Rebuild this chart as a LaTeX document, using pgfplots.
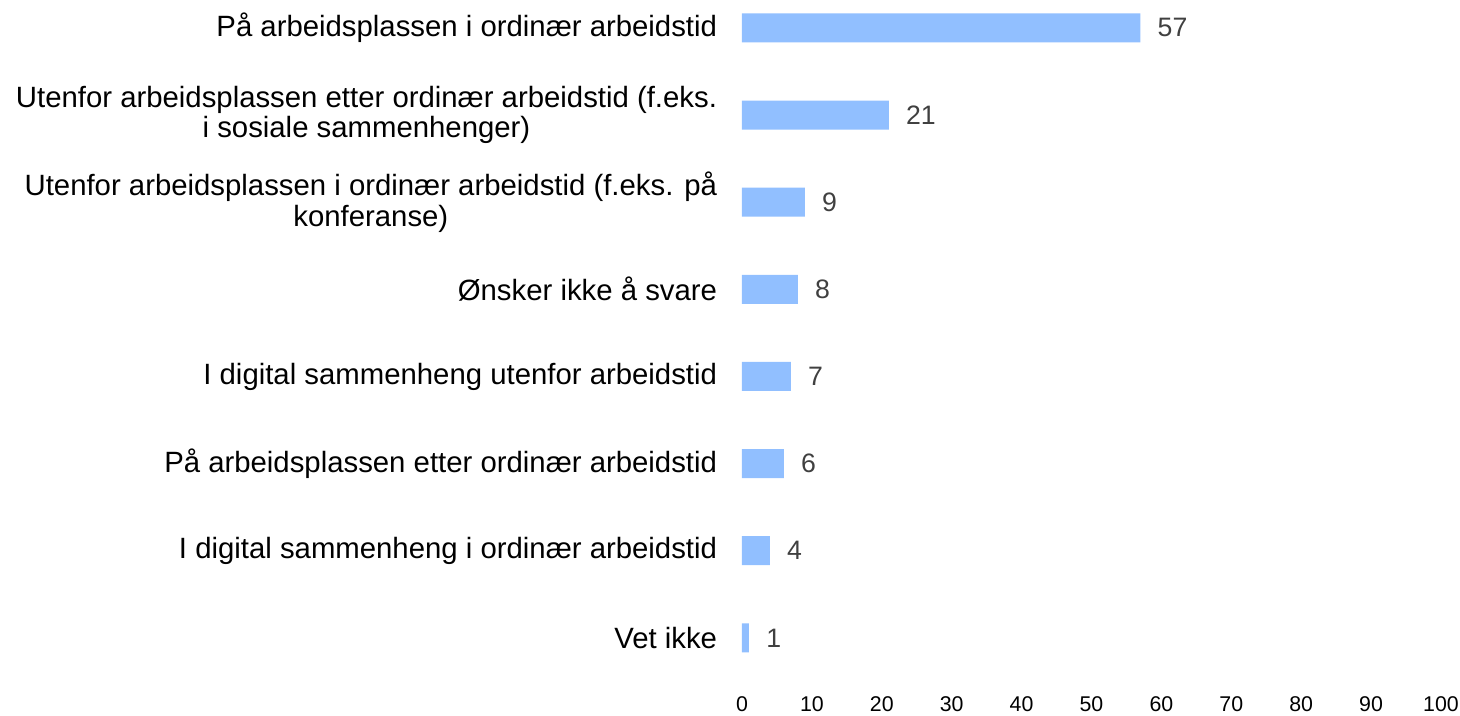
\documentclass[border=0pt]{standalone}
\usepackage{fontspec}
\setmainfont{Liberation Sans}
\usepackage{pgfplots}
\pgfplotsset{compat=1.18}
\definecolor{barblue}{HTML}{91BFFF}
\definecolor{valgray}{HTML}{404040}
\begin{document}
\begin{tikzpicture}
\begin{axis}[
  at={(556.5pt,0pt)}, anchor=north west,
  scale only axis,
  x=5.2425pt, y=65.355pt,
  xmin=0, xmax=100, ymin=-0.32, ymax=7.5,
  y dir=reverse,
  xbar, bar width=21.75pt,
  axis line style={draw=none},
  major tick style={draw=none},
  xtick={0,10,...,100},
  ytick={0,...,7},
  yticklabels={
    {På arbeidsplassen i ordinær arbeidstid},
    {Utenfor arbeidsplassen etter ordinær arbeidstid (f.eks.\\i sosiale sammenhenger)},
    {Utenfor arbeidsplassen i ordinær arbeidstid (f.eks. på\\konferanse)},
    {Ønsker ikke å svare},
    {I digital sammenheng utenfor arbeidstid},
    {På arbeidsplassen etter ordinær arbeidstid},
    {I digital sammenheng i ordinær arbeidstid},
    {Vet ikke}},
  yticklabel style={font=\fontsize{22}{23}\selectfont, align=center, inner sep=0pt, xshift=-14.25pt, anchor=east},
  xticklabel style={font=\fontsize{16}{18}\selectfont, inner sep=0pt, anchor=north, yshift=-11pt},
  /pgf/number format/assume math mode=true,
  point meta=x,
  nodes near coords,
  nodes near coords style={anchor=west, inner sep=0pt, xshift=12.75pt, font=\fontsize{20}{22.5}\selectfont, text=valgray},
]
\addplot[fill=barblue, draw=none] coordinates {(57,0) (21,1) (9,2) (8,3) (7,4) (6,5) (4,6) (1,7)};
\end{axis}
\pgfresetboundingbox
\path[use as bounding box] (0,0) rectangle (1095pt,-536.25pt);
\end{tikzpicture}
\end{document}
